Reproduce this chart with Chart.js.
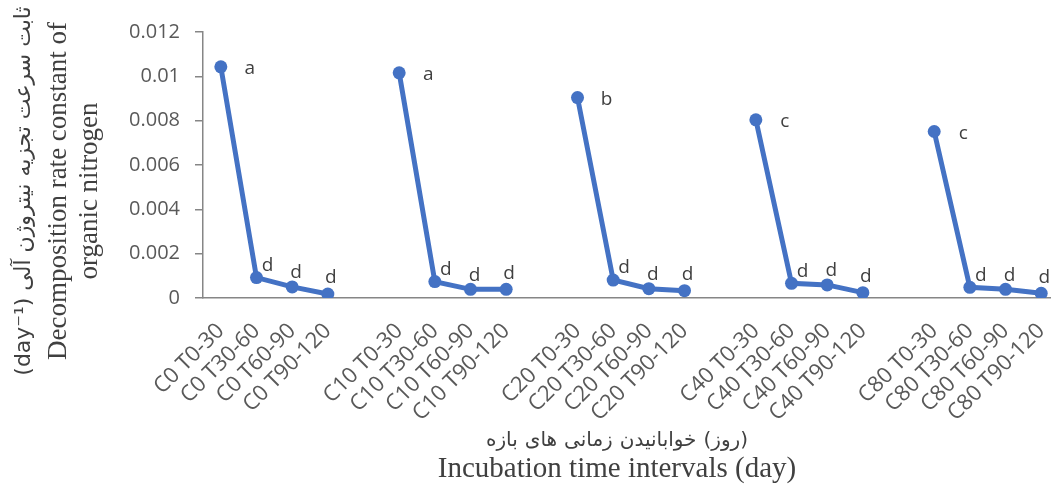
<!DOCTYPE html>
<html>
<head>
<meta charset="utf-8">
<script src="https://cdn.jsdelivr.net/npm/chart.js@4.4.0/dist/chart.umd.min.js"></script>
<style>
    html, body { margin: 0; padding: 0; background: #fff; overflow: hidden; }
    #wrap { width: 1080px; height: 490px; }
</style>
</head>
<body>
<div id="wrap"><canvas id="rateChart"></canvas></div>
<script>
// 处理组和时间段
const treatments = ['C0', 'C10', 'C20', 'C40', 'C80'];
const periods = ['T0-30', 'T30-60', 'T60-90', 'T90-120'];

// 分解速率常数 (day-1)
const c0Rates = [0.01043, 0.00092, 0.00050, 0.00018];
const c10Rates = [0.01016, 0.00074, 0.00039, 0.00039];
const c20Rates = [0.00904, 0.00081, 0.00042, 0.00033];
const c40Rates = [0.00804, 0.00066, 0.00059, 0.00024];
const c80Rates = [0.00751, 0.00048, 0.00039, 0.00021];

// 显著性字母
const c0Letters = ['a', 'd', 'd', 'd'];
const c10Letters = ['a', 'd', 'd', 'd'];
const c20Letters = ['b', 'd', 'd', 'd'];
const c40Letters = ['c', 'd', 'd', 'd'];
const c80Letters = ['c', 'd', 'd', 'd'];

// y轴刻度
const yTicks = [0, 0.002, 0.004, 0.006, 0.008, 0.01, 0.012];

// 轴标题
const yTitlePersian = ['(day⁻¹)', 'آلی', 'نیتروژن', 'تجزیه', 'سرعت', 'ثابت'];
const yTitleLines = ['Decomposition rate constant of', 'organic nitrogen'];
const xTitlePersian = ['بازه', 'های', 'زمانی', 'خوابانیدن', '(روز)'];
const xTitle = 'Incubation time intervals (day)';

// 组装类别和数据 (组之间留一个空位)
const allRates = [c0Rates, c10Rates, c20Rates, c40Rates, c80Rates];
const allLetters = [c0Letters, c10Letters, c20Letters, c40Letters, c80Letters];
const labels = [];
const values = [];
const letters = [];
treatments.forEach((t, gi) => {
    if (gi > 0) {
        labels.push('');
        values.push(null);
        letters.push(null);
    }
    periods.forEach((p, pi) => {
        labels.push(t + ' ' + p);
        values.push(allRates[gi][pi]);
        letters.push(allLetters[gi][pi]);
    });
});

// 按组内位置的字母偏移
const letterOffsets = [[29, 2], [11, -12], [4, -14], [3, -16]];

const letterPlugin = {
    id: 'letters',
    afterDatasetsDraw(chart) {
        const ctx = chart.ctx;
        const meta = chart.getDatasetMeta(0);
        ctx.save();
        ctx.font = '19px "Open Sans", sans-serif';
        ctx.fillStyle = '#404040';
        ctx.textAlign = 'center';
        ctx.textBaseline = 'middle';
        let pos = 0;
        letters.forEach((l, i) => {
            if (l === null) { pos = 0; return; }
            const pt = meta.data[i];
            const off = letterOffsets[pos];
            ctx.fillText(l, pt.x + off[0], pt.y + off[1]);
            pos++;
        });
        ctx.restore();
    }
};

// 逐词从左到右绘制
function drawWords(ctx, words, cx, cy, gap) {
    const widths = words.map(w => ctx.measureText(w).width);
    const total = widths.reduce((s, w) => s + w, 0) + gap * (words.length - 1);
    let x = cx - total / 2;
    ctx.textAlign = 'left';
    words.forEach((w, i) => {
        ctx.fillText(w, x, cy);
        x += widths[i] + gap;
    });
}

const titlePlugin = {
    id: 'titles',
    afterDraw(chart) {
        const ctx = chart.ctx;
        ctx.save();
        ctx.fillStyle = '#404040';
        ctx.textBaseline = 'middle';
        ctx.direction = 'ltr';

        // y轴标题
        ctx.save();
        ctx.translate(0, 191);
        ctx.rotate(-Math.PI / 2);
        ctx.font = '22px "DejaVu Sans", sans-serif';
        drawWords(ctx, yTitlePersian, 0, 24, 7);
        ctx.font = '27px "Liberation Serif", serif';
        ctx.textAlign = 'center';
        ctx.fillText(yTitleLines[0], 0, 59);
        ctx.fillText(yTitleLines[1], 0, 90);
        ctx.restore();

        // x轴标题
        ctx.font = '20px "DejaVu Sans", sans-serif';
        drawWords(ctx, xTitlePersian, 617, 441, 7);
        ctx.font = '29px "Liberation Serif", serif';
        ctx.textAlign = 'center';
        ctx.fillText(xTitle, 617, 469);
        ctx.restore();
    }
};

new Chart(document.getElementById('rateChart').getContext('2d'), {
    type: 'line',
    data: {
        labels: labels,
        datasets: [{
            data: values,
            borderColor: '#4472C4',
            backgroundColor: '#4472C4',
            borderWidth: 5,
            pointRadius: 6.5,
            pointBorderWidth: 0,
            pointBackgroundColor: '#4472C4',
            tension: 0,
            spanGaps: false
        }]
    },
    options: {
        responsive: true,
        maintainAspectRatio: false,
        animation: false,
        layout: { padding: { left: 110, top: 32, right: 0, bottom: 0 } },
        plugins: {
            legend: { display: false },
            tooltip: { enabled: false }
        },
        scales: {
            x: {
                offset: true,
                grid: { display: false, drawTicks: false },
                border: { display: true, color: '#868686', width: 1.5 },
                ticks: {
                    autoSkip: false,
                    minRotation: 45,
                    maxRotation: 45,
                    padding: 20,
                    color: '#595959',
                    font: { family: 'Open Sans', size: 22 }
                },
                afterFit: s => { s.height = 192; }
            },
            y: {
                min: 0,
                max: 0.012,
                afterBuildTicks: s => { s.ticks = yTicks.map(v => ({ value: v })); },
                grid: { drawOnChartArea: false, drawTicks: true, tickLength: 8, color: '#868686', lineWidth: 1.5 },
                border: { display: true, color: '#868686', width: 1.5 },
                ticks: {
                    padding: 15,
                    color: '#595959',
                    font: { family: 'Open Sans', size: 20 },
                    callback: v => String(Number(v.toFixed(3)))
                },
                afterFit: s => { s.width = 93; }
            }
        }
    },
    plugins: [letterPlugin, titlePlugin]
});
</script>
</body>
</html>
